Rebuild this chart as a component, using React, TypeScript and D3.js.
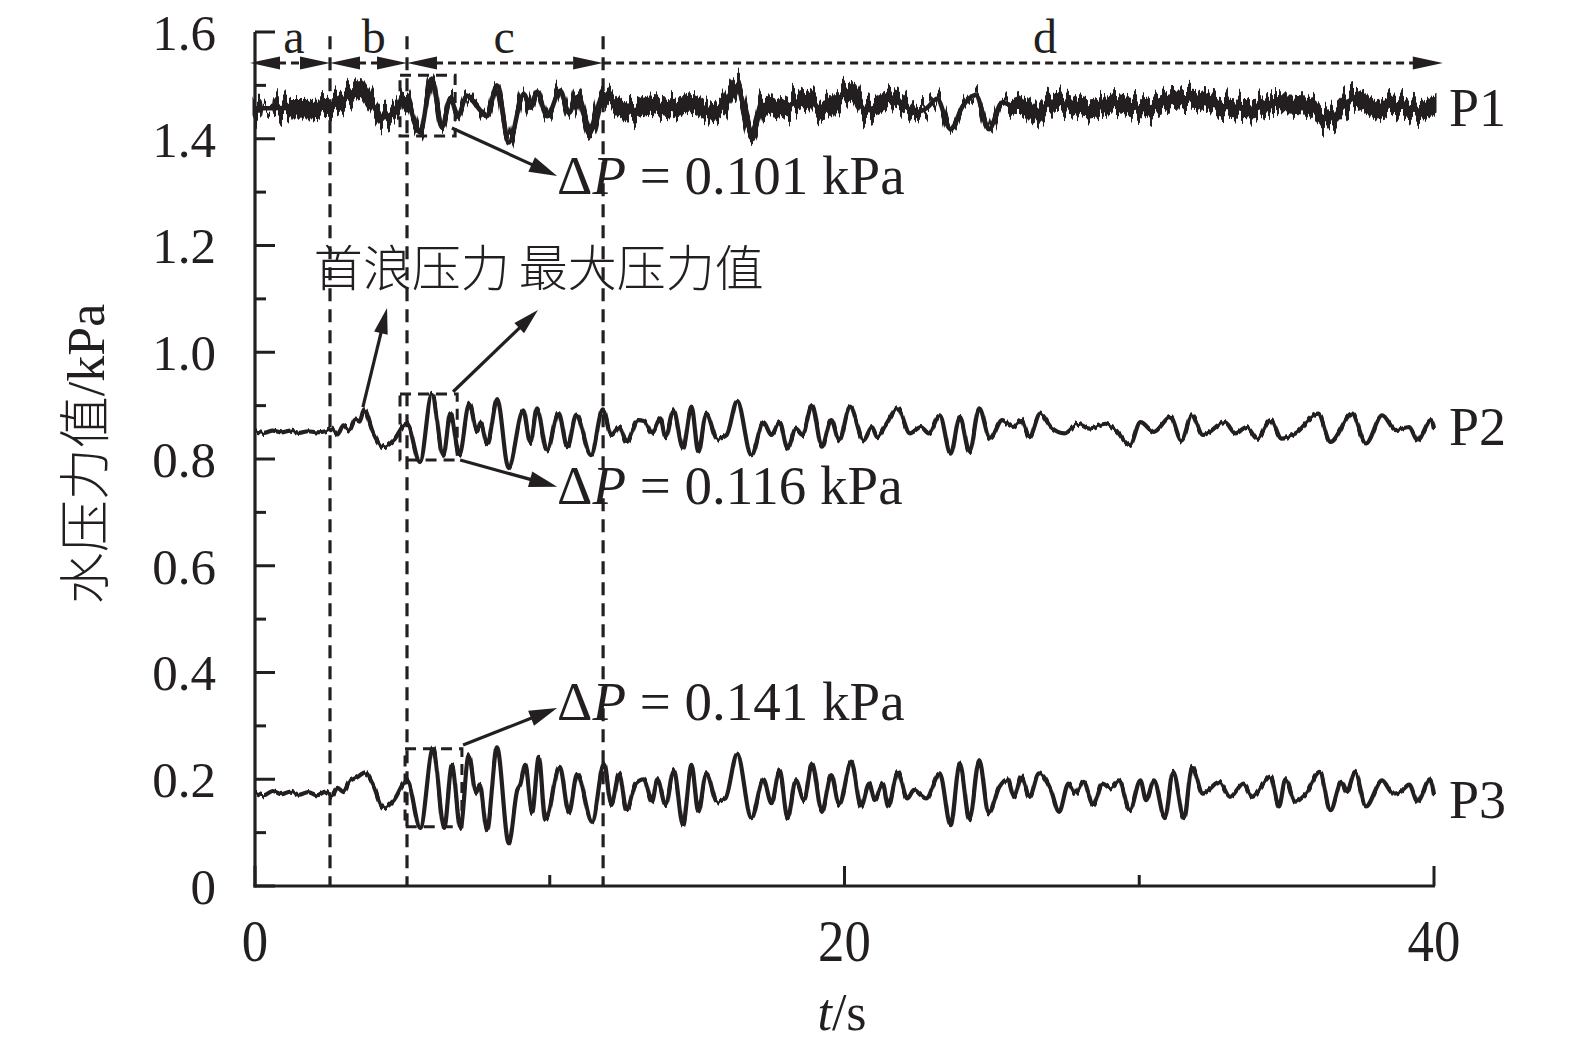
import React from 'react';
import * as d3 from 'd3';

// ---------- data ----------
const yTicks = [0, 0.2, 0.4, 0.6, 0.8, 1.0, 1.2, 1.4, 1.6];
const yMinorTicks = [0.1, 0.3, 0.5, 0.7, 0.9, 1.1, 1.3, 1.5];
const xTicks = [0, 20, 40];
const xMinorTicks = [10, 30];

// phase boundaries (s)
const phaseBounds = [2.545, 5.157, 11.81];
const phaseLabels = [
  { label: 'a', t: 1.32 },
  { label: 'b', t: 4.03 },
  { label: 'c', t: 8.45 },
  { label: 'd', t: 26.8 },
];
// [start, end, head at start]
const phaseArrows: [number, number, boolean][] = [
  [-0.17, 2.545, true],
  [2.545, 5.157, true],
  [5.157, 11.81, true],
  [11.81, 40.3, false],
];
const phaseArrowLevel = 1.542;

// P1: [t, mid value, noise half-width]
const p1Series: [number, number, number][] = [
  [0, 1.457, 0.024], [0.15, 1.457, 0.024], [0.2, 1.457, 0.004], [0.65, 1.457, 0.004],
  [0.7, 1.458, 0.024], [1.5, 1.456, 0.025], [2.5, 1.459, 0.024], [3.0, 1.474, 0.024],
  [3.57, 1.494, 0.024], [3.9, 1.47, 0.022], [4.36, 1.44, 0.02], [4.75, 1.452, 0.02],
  [5.1, 1.474, 0.018], [5.6, 1.412, 0.006], [6.0, 1.513, 0.004], [6.34, 1.421, 0.005],
  [6.63, 1.476, 0.007], [6.88, 1.442, 0.007], [7.19, 1.481, 0.009], [7.5, 1.463, 0.01],
  [7.87, 1.442, 0.01], [8.21, 1.5, 0.01], [8.61, 1.393, 0.009], [9.12, 1.484, 0.012],
  [9.35, 1.458, 0.012], [9.57, 1.488, 0.013], [9.91, 1.442, 0.013], [10.36, 1.49, 0.014],
  [10.65, 1.448, 0.014], [10.93, 1.478, 0.016], [11.38, 1.414, 0.016], [11.84, 1.483, 0.018],
  [12.3, 1.462, 0.022], [12.64, 1.45, 0.024], [13.38, 1.463, 0.024], [14.11, 1.456, 0.024],
  [14.85, 1.466, 0.024], [15.4, 1.45, 0.024], [15.86, 1.46, 0.024], [16.32, 1.498, 0.022],
  [16.88, 1.411, 0.02], [17.24, 1.463, 0.024], [17.8, 1.456, 0.024], [18.72, 1.476, 0.024],
  [19.27, 1.453, 0.024], [20.19, 1.489, 0.024], [20.74, 1.453, 0.024], [21.66, 1.476, 0.022],
  [22.4, 1.45, 0.016], [22.8, 1.458, 0.01], [23.14, 1.475, 0.007], [23.6, 1.418, 0.007],
  [24.02, 1.462, 0.007], [24.45, 1.482, 0.007], [24.9, 1.418, 0.008], [25.35, 1.468, 0.012],
  [25.8, 1.46, 0.02], [26.08, 1.463, 0.024], [26.45, 1.444, 0.024], [27.0, 1.469, 0.024],
  [27.74, 1.463, 0.024], [28.29, 1.456, 0.024], [29.22, 1.466, 0.024], [30.14, 1.456, 0.024],
  [31.06, 1.473, 0.024], [31.79, 1.476, 0.024], [32.9, 1.46, 0.024], [33.82, 1.456, 0.024],
  [34.56, 1.466, 0.024], [35.66, 1.463, 0.024], [36.4, 1.437, 0.024], [37.32, 1.476, 0.024],
  [38.05, 1.456, 0.024], [38.61, 1.463, 0.024], [39.53, 1.453, 0.024], [40.0, 1.463, 0.024],
];

// P2: [t, value]
const p2Series: [number, number][] = [
  [0, 0.852], [0.3, 0.849], [0.6, 0.853], [0.9, 0.85], [1.2, 0.853], [1.5, 0.849], [1.8, 0.852],
  [2.1, 0.85], [2.4, 0.852], [2.6, 0.857], [2.8, 0.846], [3.0, 0.863], [3.2, 0.853], [3.4, 0.874],
  [3.55, 0.87], [3.7, 0.893], [4.0, 0.85], [4.35, 0.822], [4.7, 0.835], [5.15, 0.867], [5.6, 0.794],
  [6.0, 0.922], [6.39, 0.806], [6.63, 0.886], [6.93, 0.807], [7.27, 0.904], [7.54, 0.852],
  [7.65, 0.868], [7.88, 0.828], [8.22, 0.912], [8.6, 0.783], [9.1, 0.891], [9.34, 0.83],
  [9.57, 0.895], [9.9, 0.816], [10.3, 0.886], [10.6, 0.822], [10.9, 0.883], [11.4, 0.807],
  [11.8, 0.893], [12.09, 0.845], [12.36, 0.86], [12.6, 0.832], [13.0, 0.873], [13.2, 0.871],
  [13.47, 0.848], [13.75, 0.876], [13.93, 0.841], [14.2, 0.891], [14.52, 0.82], [14.81, 0.898],
  [15.04, 0.813], [15.31, 0.885], [15.68, 0.838], [16.0, 0.845], [16.36, 0.909], [16.84, 0.807],
  [17.25, 0.869], [17.52, 0.845], [17.8, 0.869], [18.07, 0.82], [18.35, 0.857], [18.57, 0.845],
  [18.9, 0.901], [19.23, 0.823], [19.55, 0.873], [19.82, 0.835], [20.19, 0.898], [20.65, 0.835],
  [20.93, 0.86], [21.11, 0.841], [21.39, 0.863], [21.81, 0.895], [22.22, 0.848], [22.59, 0.86],
  [22.86, 0.848], [23.23, 0.882], [23.6, 0.81], [23.91, 0.879], [24.24, 0.813], [24.57, 0.895],
  [24.94, 0.838], [25.35, 0.873], [25.72, 0.86], [26.0, 0.873], [26.27, 0.841], [26.64, 0.885],
  [27.0, 0.86], [27.47, 0.848], [27.93, 0.866], [28.3, 0.857], [28.85, 0.866], [29.2, 0.854],
  [29.68, 0.826], [30.04, 0.869], [30.5, 0.851], [31.06, 0.879], [31.43, 0.835], [31.79, 0.882],
  [32.16, 0.845], [32.9, 0.869], [33.27, 0.848], [33.64, 0.86], [34.0, 0.838], [34.46, 0.873],
  [34.83, 0.838], [35.3, 0.848], [36.07, 0.885], [36.49, 0.832], [37.22, 0.885], [37.69, 0.829],
  [38.24, 0.882], [38.7, 0.854], [39.16, 0.86], [39.44, 0.835], [39.9, 0.873], [40.0, 0.856],
];

// P3: [t, value]
const p3Series: [number, number][] = [
  [0, 0.175], [0.3, 0.17], [0.6, 0.178], [0.9, 0.172], [1.2, 0.177], [1.5, 0.171], [1.8, 0.176],
  [2.1, 0.17], [2.4, 0.177], [2.6, 0.168], [2.8, 0.184], [3.0, 0.176], [3.2, 0.196], [3.45, 0.203],
  [3.74, 0.213], [4.0, 0.19], [4.36, 0.146], [4.7, 0.16], [5.16, 0.198], [5.61, 0.109], [6.04, 0.258],
  [6.42, 0.109], [6.68, 0.227], [6.97, 0.109], [7.25, 0.245], [7.5, 0.175], [7.62, 0.19],
  [7.87, 0.105], [8.21, 0.26], [8.61, 0.08], [8.9, 0.18], [9.0, 0.19], [9.17, 0.227], [9.4, 0.137],
  [9.63, 0.242], [9.85, 0.124], [10.34, 0.223], [10.65, 0.137], [10.93, 0.21], [11.44, 0.12],
  [11.84, 0.23], [12.09, 0.152], [12.36, 0.211], [12.6, 0.142], [12.92, 0.192], [13.19, 0.2],
  [13.47, 0.158], [13.65, 0.2], [13.93, 0.152], [14.21, 0.217], [14.52, 0.114], [14.81, 0.227],
  [15.04, 0.139], [15.31, 0.211], [15.68, 0.158], [15.96, 0.164], [16.36, 0.248], [16.84, 0.127],
  [17.25, 0.2], [17.52, 0.155], [17.8, 0.217], [18.07, 0.127], [18.35, 0.198], [18.63, 0.161],
  [18.9, 0.23], [19.23, 0.139], [19.55, 0.208], [19.82, 0.152], [20.23, 0.233], [20.56, 0.149],
  [20.84, 0.192], [21.02, 0.161], [21.3, 0.192], [21.48, 0.149], [21.81, 0.214], [22.13, 0.164],
  [22.36, 0.18], [22.59, 0.17], [22.77, 0.164], [23.23, 0.211], [23.6, 0.114], [23.91, 0.23],
  [24.24, 0.124], [24.57, 0.236], [24.89, 0.136], [25.26, 0.186], [25.53, 0.2], [25.75, 0.167],
  [26.0, 0.205], [26.27, 0.167], [26.6, 0.211], [27.0, 0.18], [27.28, 0.139], [27.6, 0.192],
  [27.83, 0.173], [28.11, 0.195], [28.44, 0.152], [28.75, 0.192], [29.03, 0.183], [29.31, 0.198],
  [29.68, 0.142], [30.04, 0.198], [30.23, 0.161], [30.5, 0.198], [30.87, 0.127], [31.15, 0.214],
  [31.52, 0.127], [31.79, 0.223], [32.16, 0.173], [32.71, 0.195], [33.08, 0.167], [33.54, 0.192],
  [33.82, 0.167], [34.46, 0.205], [34.74, 0.149], [34.96, 0.2], [35.29, 0.158], [35.66, 0.173],
  [36.12, 0.214], [36.49, 0.142], [36.86, 0.195], [37.04, 0.176], [37.32, 0.214], [37.69, 0.149],
  [38.24, 0.198], [38.61, 0.173], [38.88, 0.177], [39.16, 0.19], [39.44, 0.158], [39.86, 0.2],
  [40.0, 0.17],
];

const seriesLabels = [
  { label: 'P1', v: 1.424 },
  { label: 'P2', v: 0.826 },
  { label: 'P3', v: 0.128 },
];

// dashed boxes around the largest swing: [t0, t1, vLow, vHigh]
const swingBoxes: [number, number, number, number][] = [
  [4.92, 6.79, 1.405, 1.519],
  [4.92, 6.86, 0.798, 0.922],
  [5.09, 7.02, 0.111, 0.257],
];
// ΔP callouts
const deltaCallouts = [
  { text: '0.101', from: [6.68, 1.42], to: [10.25, 1.33], at: [10.25, 1.297] },
  { text: '0.116', from: [6.96, 0.798], to: [10.25, 0.748], at: [10.25, 0.716] },
  { text: '0.141', from: [7.06, 0.264], to: [10.25, 0.3335], at: [10.25, 0.311] },
];
const noteArrows = [
  { from: [3.66, 0.897], to: [4.48, 1.083] },
  { from: [6.72, 0.926], to: [9.6, 1.079] },
];
const notes = [
  { text: '首浪压力', t: 1.99, v: 1.125 },
  { text: '最大压力值', t: 8.95, v: 1.125 },
];

// ---------- drawing ----------
const W = 1575;
const H = 1053;
const INK = '#231f20';
const SERIF = '"Liberation Serif", "Times New Roman", serif';
const CJK = '"Noto Sans CJK SC", "Noto Sans CJK JP", sans-serif';

const x = d3.scaleLinear().domain([0, 40]).range([255, 1434]);
const y = d3.scaleLinear().domain([0, 1.6]).range([886, 32]);

function Arrow({ x1, y1, x2, y2, len = 26, hw = 7, sw = 3.2 }: any) {
  const a = Math.atan2(y2 - y1, x2 - x1);
  const bx = x2 - len * Math.cos(a);
  const by = y2 - len * Math.sin(a);
  const px = -Math.sin(a) * hw;
  const py = Math.cos(a) * hw;
  return (
    <g>
      <line x1={x1} y1={y1} x2={bx + Math.cos(a) * 4} y2={by + Math.sin(a) * 4} stroke={INK} strokeWidth={sw} />
      <polygon points={`${x2},${y2} ${bx + px},${by + py} ${bx - px},${by - py}`} fill={INK} />
    </g>
  );
}

export default function App() {
  const line = d3
    .line<[number, number]>()
    .x((d) => x(d[0]))
    .y((d) => y(d[1]))
    .curve(d3.curveMonotoneX);
  // textured band of the high-frequency noise of P1 (only where it is strong)
  const band = d3
    .area<[number, number, number]>()
    .x((d) => x(d[0]))
    .y0((d) => y(d[1] - (d[2] >= 0.015 ? d[2] * 0.55 : 0)))
    .y1((d) => y(d[1] + (d[2] >= 0.015 ? d[2] * 0.55 : 0)))
    .curve(d3.curveMonotoneX);
  const mid = d3
    .line<[number, number, number]>()
    .x((d) => x(d[0]))
    .y((d) => y(d[1]))
    .curve(d3.curveMonotoneX);

  const arrowY = y(phaseArrowLevel);

  return (
    <svg width={W} height={H} style={{ position: 'absolute', left: 0, top: 0, background: '#fff' }}>
      <defs>
        <filter id="jagged" filterUnits="userSpaceOnUse" x={230} y={20} width={1240} height={160} colorInterpolationFilters="sRGB">
          <feTurbulence type="fractalNoise" baseFrequency="0.24 0" numOctaves={2} seed={7} result="n" />
          <feColorMatrix in="n" type="matrix" values="1 0 0 0 0  0 0 0 0 0.5  0 0 0 0 0  0 0 0 0 1" result="m" />
          <feDisplacementMap in="SourceGraphic" in2="m" scale={40} xChannelSelector="G" yChannelSelector="R" />
        </filter>
        <filter id="fuzz" filterUnits="userSpaceOnUse" x={230} y={350} width={1240} height={520} colorInterpolationFilters="sRGB">
          <feTurbulence type="fractalNoise" baseFrequency="0.4 0" numOctaves={1} seed={3} result="n" />
          <feColorMatrix in="n" type="matrix" values="1 0 0 0 0  0 0 0 0 0.5  0 0 0 0 0  0 0 0 0 1" result="m" />
          <feDisplacementMap in="SourceGraphic" in2="m" scale={7} xChannelSelector="G" yChannelSelector="R" />
        </filter>
      </defs>
      <rect x={0} y={0} width={W} height={H} fill="#fff" />

      {/* phase boundary dashed lines */}
      {phaseBounds.map((t, i) => (
        <line key={i} x1={x(t)} x2={x(t)} y1={y(1.592)} y2={y(0)} stroke={INK} strokeWidth={3.2} strokeDasharray="13 8" />
      ))}

      {/* phase arrows */}
      {phaseArrows.map(([t0, t1, both], i) => {
        const xa = x(t0);
        const xb = x(t1);
        const L = 30;
        const hw = 6.5;
        return (
          <g key={i}>
            <line x1={both ? xa + L - 2 : xa} x2={xb - L + 2} y1={arrowY} y2={arrowY} stroke={INK} strokeWidth={3} strokeDasharray="8 5" />
            <polygon points={`${xb},${arrowY} ${xb - L},${arrowY - hw} ${xb - L},${arrowY + hw}`} fill={INK} />
            {both && <polygon points={`${xa},${arrowY} ${xa + L},${arrowY - hw} ${xa + L},${arrowY + hw}`} fill={INK} />}
          </g>
        );
      })}
      {phaseLabels.map((p) => (
        <text key={p.label} x={x(p.t)} y={y(1.6) + 21} textAnchor="middle" fontFamily={SERIF} fontSize={48} fill={INK}>
          {p.label}
        </text>
      ))}

      {/* swing boxes */}
      {swingBoxes.map(([t0, t1, v0, v1], i) => (
        <rect key={i} x={x(t0)} y={y(v1)} width={x(t1) - x(t0)} height={y(v0) - y(v1)} fill="none" stroke={INK} strokeWidth={3} strokeDasharray="11 7" />
      ))}

      {/* series */}
      <path d={band(p1Series) || ''} fill={INK} stroke={INK} strokeWidth={5} filter="url(#jagged)" />
      <path d={mid(p1Series) || ''} fill="none" stroke={INK} strokeWidth={4.5} strokeLinejoin="round" />
      <g filter="url(#fuzz)">
        <path d={line(p2Series) || ''} fill="none" stroke={INK} strokeWidth={4.2} strokeLinejoin="round" />
        <path d={line(p3Series) || ''} fill="none" stroke={INK} strokeWidth={4.2} strokeLinejoin="round" />
      </g>

      {/* axes */}
      <line x1={x(0)} x2={x(0)} y1={y(1.6)} y2={y(0) + 1.5} stroke={INK} strokeWidth={3.2} />
      <line x1={x(0) - 1.5} x2={x(40) + 1} y1={y(0)} y2={y(0)} stroke={INK} strokeWidth={3.2} />
      {yTicks.map((v) => (
        <g key={'y' + v}>
          <line x1={x(0)} x2={x(0) + 20} y1={y(v)} y2={y(v)} stroke={INK} strokeWidth={3} />
          <text x={216} y={y(v)} dy="0.35em" textAnchor="end" fontFamily={SERIF} fontSize={51} fill={INK}>
            {v === 0 ? '0' : v.toFixed(1)}
          </text>
        </g>
      ))}
      {yMinorTicks.map((v) => (
        <line key={'ym' + v} x1={x(0)} x2={x(0) + 11} y1={y(v)} y2={y(v)} stroke={INK} strokeWidth={3} />
      ))}
      {xTicks.map((t) => (
        <g key={'x' + t}>
          <line x1={x(t)} x2={x(t)} y1={y(0)} y2={y(0) - 20} stroke={INK} strokeWidth={3} />
          <text transform={`translate(${x(t)},961) scale(0.88,1)`} textAnchor="middle" fontFamily={SERIF} fontSize={60} fill={INK}>
            {t}
          </text>
        </g>
      ))}
      {xMinorTicks.map((t) => (
        <line key={'xm' + t} x1={x(t)} x2={x(t)} y1={y(0)} y2={y(0) - 11} stroke={INK} strokeWidth={3} />
      ))}

      {/* axis titles */}
      <text x={842} y={1030} textAnchor="middle" fontFamily={SERIF} fontSize={52} fill={INK}>
        <tspan fontStyle="italic">t</tspan>/s
      </text>
      <text transform="translate(104,454) rotate(-90)" textAnchor="middle" fontSize={52} fill={INK}>
        <tspan fontFamily={CJK} fontWeight={300}>水压力值</tspan>
        <tspan fontFamily={SERIF}>/kPa</tspan>
      </text>

      {/* series labels */}
      {seriesLabels.map((s) => (
        <text key={s.label} x={1449} y={y(s.v)} fontFamily={SERIF} fontSize={54} fill={INK}>
          {s.label}
        </text>
      ))}

      {/* notes */}
      {notes.map((n) => (
        <text key={n.text} x={x(n.t)} y={y(n.v)} fontFamily={CJK} fontWeight={300} fontSize={49} fill={INK}>
          {n.text}
        </text>
      ))}
      {noteArrows.map((a, i) => (
        <Arrow key={i} x1={x(a.from[0])} y1={y(a.from[1])} x2={x(a.to[0])} y2={y(a.to[1])} len={26} hw={7} />
      ))}

      {/* delta P callouts */}
      {deltaCallouts.map((c, i) => (
        <g key={i}>
          <text x={x(c.at[0])} y={y(c.at[1])} fontFamily={SERIF} fontSize={55} fill={INK} style={{ whiteSpace: 'pre' }}>
            <tspan>Δ</tspan>
            <tspan fontStyle="italic">P</tspan>
            <tspan>{` = ${c.text} kPa`}</tspan>
          </text>
          <Arrow x1={x(c.from[0])} y1={y(c.from[1])} x2={x(c.to[0])} y2={y(c.to[1])} len={28} hw={8} />
        </g>
      ))}
    </svg>
  );
}
